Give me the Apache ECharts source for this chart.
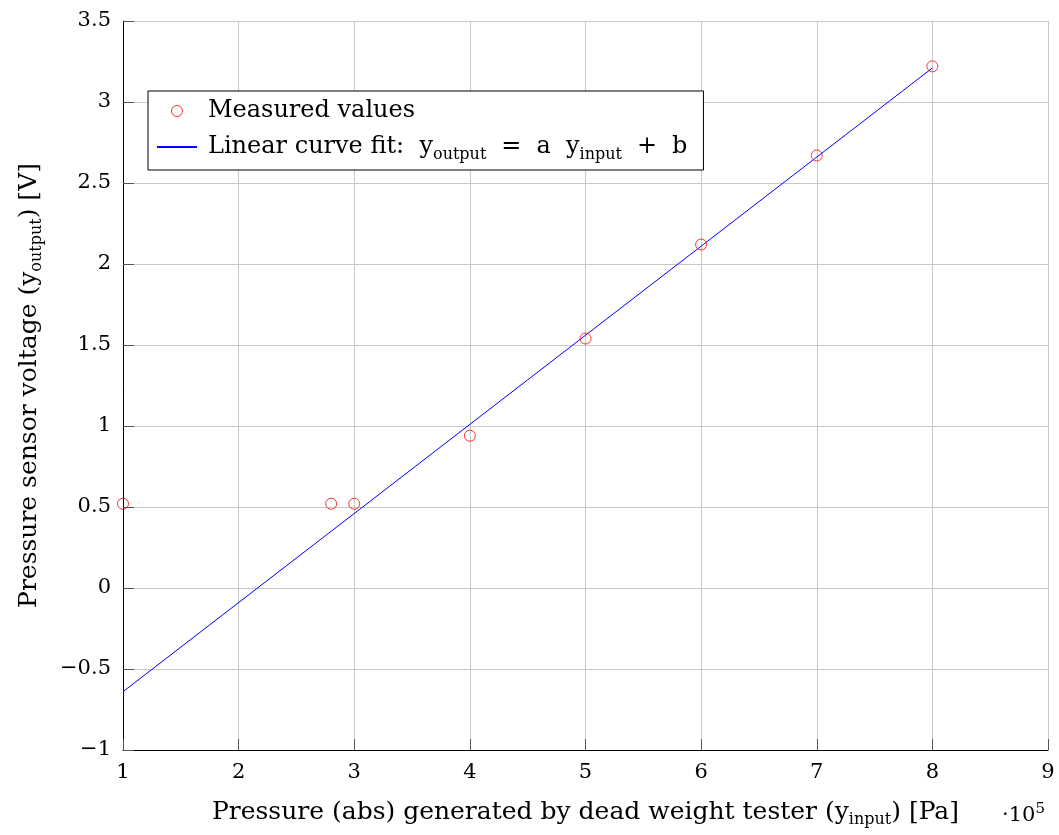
<!DOCTYPE html>
<html>
<head>
<meta charset="utf-8">
<script src="https://cdn.jsdelivr.net/npm/echarts@6/dist/echarts.min.js"></script>
<style>
  html, body { margin: 0; padding: 0; background: #fff; }
  #chart { width: 1059px; height: 835px; }
</style>
</head>
<body>
<div id="chart"></div>
<script>
// Dead weight tester input (x 10^5 Pa) and measured sensor output (V)
const pressureInput = [1, 2.8, 3, 4, 5, 6, 7, 8];
const sensorOutput = [0.52, 0.52, 0.52, 0.94, 1.54, 2.12, 2.67, 3.22];

// Linear fit endpoints: y_output = a * y_input + b
const fitInput = [1, 8];
const fitOutput = [-0.64, 3.21];

const xTicks = [1, 2, 3, 4, 5, 6, 7, 8, 9];
const yTicks = [-1, -0.5, 0, 0.5, 1, 1.5, 2, 2.5, 3, 3.5];

const serif = '"DejaVu Serif", "Liberation Serif", serif';
const textFs = 24;
const subStyle = { fontFamily: serif, fontSize: 16, color: '#000', padding: [16, 0, 0, 0] };
const opStyle = { fontFamily: serif, fontSize: textFs, color: '#000', padding: [0, 15, 0, 15] };

const fmtNum = v => (v < 0 ? '\u2212' + String(-v) : String(v));

const chart = echarts.init(document.getElementById('chart'));
chart.setOption({
  animation: false,
  backgroundColor: '#fff',
  grid: { left: 123, right: 11, top: 21, bottom: 85, containLabel: false, outerBoundsMode: 'none' },
  legend: {
    left: 148, top: 91,
    orient: 'vertical',
    backgroundColor: '#fff',
    borderColor: '#000', borderWidth: 1, borderRadius: 0,
    padding: [8, 16, 7, 8],
    itemGap: 12,
    itemWidth: 40, itemHeight: 11,
    textStyle: {
      fontFamily: serif, fontSize: textFs, color: '#000', padding: [0, 0, 0, 6],
      rich: { t: { fontFamily: serif, fontSize: textFs, color: '#000' }, sub: subStyle, op: opStyle }
    },
    formatter: name => name === 'Measured values'
      ? '{t|Measured values}'
      : '{t|Linear curve fit:  y}{sub|output}{op|=}{t|a  y}{sub|input}{op|+}{t|b}',
    data: [
      { name: 'Measured values', icon: 'circle', itemStyle: { color: 'transparent', borderColor: '#ff0000', borderWidth: 1 } },
      { name: 'Linear curve fit', itemStyle: { color: 'transparent', borderColor: 'transparent', borderWidth: 0, opacity: 0 } }
    ]
  },
  xAxis: {
    type: 'value', min: 1, max: 9, interval: 1,
    name: '{t|Pressure (abs) generated by dead weight tester (y}{sub|input}{t|) [Pa]}',
    nameLocation: 'middle', nameGap: 46,
    nameTextStyle: {
      rich: { t: { fontFamily: serif, fontSize: 25, color: '#000' }, sub: subStyle }
    },
    axisLine: { onZero: false, lineStyle: { color: '#000', width: 1 } },
    axisTick: { inside: true, length: 11, lineStyle: { color: '#555' } },
    axisLabel: { fontFamily: serif, fontSize: 21, color: '#000', margin: 12, formatter: fmtNum },
    splitLine: { show: true, lineStyle: { color: '#c8c8c8', width: 1 } }
  },
  yAxis: {
    type: 'value', min: -1, max: 3.5, interval: 0.5,
    name: '{t|Pressure sensor voltage (y}{sub|output}{t|) [V]}',
    nameLocation: 'middle', nameGap: 78, nameRotate: 90,
    nameTextStyle: {
      rich: { t: { fontFamily: serif, fontSize: 25, color: '#000' }, sub: subStyle }
    },
    axisLine: { onZero: false, lineStyle: { color: '#000', width: 1 } },
    axisTick: { inside: true, length: 11, lineStyle: { color: '#555' } },
    axisLabel: { fontFamily: serif, fontSize: 21, color: '#000', margin: 12, formatter: fmtNum },
    splitLine: { show: true, lineStyle: { color: '#c8c8c8', width: 1 } }
  },
  series: [
    {
      name: 'Linear curve fit',
      type: 'line',
      symbol: 'none',
      lineStyle: { color: '#0000ff', width: 1 },
      itemStyle: { color: '#0000ff' },
      data: fitInput.map((x, i) => [x, fitOutput[i]]),
      z: 2
    },
    {
      name: 'Measured values',
      type: 'scatter',
      symbol: 'circle',
      symbolSize: 11,
      itemStyle: { color: 'transparent', borderColor: '#ff0000', borderWidth: 1 },
      data: pressureInput.map((x, i) => [x, sensorOutput[i]]),
      z: 3
    }
  ],
  graphic: [
    {
      type: 'text', right: 14, top: 802,
      style: {
        text: '{t|\u00b710}{sup|5}',
        rich: {
          t: { fontFamily: serif, fontSize: 21, color: '#000' },
          sup: { fontFamily: serif, fontSize: 15, color: '#000', padding: [0, 0, 12, 0] }
        }
      }
    }
  ]
});
</script>
</body>
</html>
